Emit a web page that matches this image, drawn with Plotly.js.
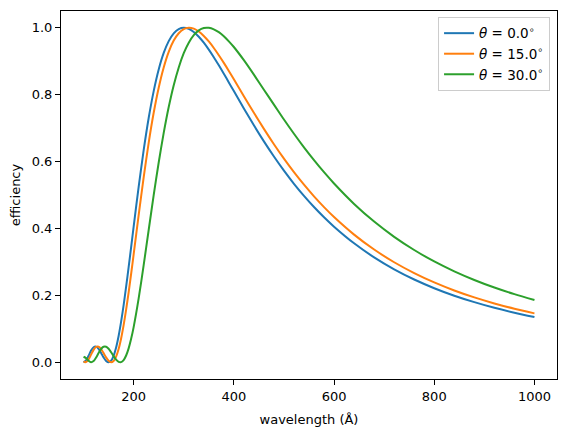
<!DOCTYPE html>
<html>
<head>
<meta charset="utf-8">
<script src="https://cdn.plot.ly/plotly-3.0.1.min.js"></script>
<style>html,body{margin:0;padding:0;background:#fff;}#chart{width:567px;height:440px;}</style>
</head>
<body>
<div id="chart"></div>
<script>
// wavelength in Angstrom
const wavelength = [100,105,110,115,120,125,130,135,140,145,150,155,160,165,170,175,180,185,190,195,200,
  210,220,230,240,250,260,270,280,290,300,310,320,330,340,350,360,370,380,390,400,
  420,440,460,480,500,520,540,560,580,600,
  640,680,720,760,800,840,880,920,960,1000];

const theta0 = [0.0000,0.0055,0.0194,0.0348,0.0450,0.0468,0.0401,0.0280,0.0146,0.0041,0.0000,0.0047,0.0194,0.0442,0.0786,0.1214,0.1710,0.2258,0.2841,0.3444,0.4053,
  0.5243,0.6340,0.7302,0.8106,0.8752,0.9246,0.9600,0.9833,0.9961,1.0000,0.9964,0.9872,0.9731,0.9553,0.9346,0.9119,0.8876,0.8624,0.8366,0.8106,
  0.7587,0.7083,0.6602,0.6150,0.5728,0.5336,0.4975,0.4641,0.4335,0.4053,
  0.3556,0.3135,0.2778,0.2474,0.2214,0.1990,0.1797,0.1628,0.1482,0.1353];

const theta15 = [0.0024,0.0005,0.0085,0.0228,0.0372,0.0459,0.0464,0.0393,0.0274,0.0145,0.0043,0.0000,0.0039,0.0170,0.0396,0.0713,0.1111,0.1575,0.2092,0.2646,0.3224,
  0.4397,0.5529,0.6561,0.7457,0.8208,0.8813,0.9279,0.9615,0.9836,0.9959,1.0000,0.9972,0.9887,0.9755,0.9589,0.9394,0.9178,0.8949,0.8708,0.8459,
  0.7953,0.7457,0.6977,0.6517,0.6086,0.5682,0.5307,0.4959,0.4638,0.4341,
  0.3816,0.3370,0.2990,0.2666,0.2387,0.2147,0.1939,0.1759,0.1600,0.1462];

const theta30 = [0.0165,0.0125,0.0045,0.0000,0.0035,0.0140,0.0276,0.0396,0.0463,0.0464,0.0403,0.0301,0.0183,0.0079,0.0013,0.0004,0.0065,0.0202,0.0416,0.0701,0.1051,
  0.1909,0.2903,0.3954,0.4993,0.5971,0.6855,0.7628,0.8281,0.8813,0.9239,0.9554,0.9780,0.9921,0.9991,0.9997,0.9953,0.9867,0.9747,0.9594,0.9424,
  0.9030,0.8597,0.8146,0.7703,0.7257,0.6831,0.6425,0.6042,0.5681,0.5344,
  0.4734,0.4206,0.3750,0.3356,0.3014,0.2718,0.2460,0.2234,0.2036,0.1861];

const seriesNames = ['<i>θ</i> = 0.0<sup>∘</sup>', '<i>θ</i> = 15.0<sup>∘</sup>', '<i>θ</i> = 30.0<sup>∘</sup>'];
const xTicks = [200, 400, 600, 800, 1000];
const yTicks = [0.0, 0.2, 0.4, 0.6, 0.8, 1.0];

const colors = ['#1f77b4', '#ff7f0e', '#2ca02c'];
const ys = [theta0, theta15, theta30];

const traces = ys.map((y, i) => ({
  x: wavelength, y: y, type: 'scatter', mode: 'lines', name: seriesNames[i],
  line: {color: colors[i], width: 2, shape: 'spline', smoothing: 0.8}
}));

const font = {family: 'DejaVu Sans, sans-serif', size: 13, color: '#000'};

const layout = {
  width: 567, height: 440,
  margin: {l: 61, r: 10, t: 11, b: 61, pad: 0},
  paper_bgcolor: '#fff', plot_bgcolor: '#fff',
  font: font,
  showlegend: true,
  legend: {x: 0.986, y: 0.984, xanchor: 'right', yanchor: 'top',
    bgcolor: 'rgba(255,255,255,0.8)', bordercolor: '#cccccc', borderwidth: 1,
    font: {family: 'DejaVu Sans, sans-serif', size: 13.5, color: '#000'}, tracegroupgap: 2},
  xaxis: {
    range: [55, 1045], tickvals: xTicks, ticktext: xTicks.map(String),
    showgrid: false, zeroline: false, showline: true, mirror: true,
    linecolor: '#000', linewidth: 1, ticks: 'outside', ticklen: 5, tickwidth: 1, tickcolor: '#000',
    tickfont: font,
    title: {text: 'wavelength (Å)', font: font, standoff: 12}
  },
  yaxis: {
    range: [-0.05, 1.05], tickvals: yTicks, ticktext: yTicks.map(v => v.toFixed(1)),
    showgrid: false, zeroline: false, showline: true, mirror: true,
    linecolor: '#000', linewidth: 1, ticks: 'outside', ticklen: 5, tickwidth: 1, tickcolor: '#000',
    tickfont: font,
    title: {text: 'efficiency', font: font, standoff: 8}
  }
};

Plotly.newPlot('chart', traces, layout, {displayModeBar: false, staticPlot: true});
</script>
</body>
</html>
